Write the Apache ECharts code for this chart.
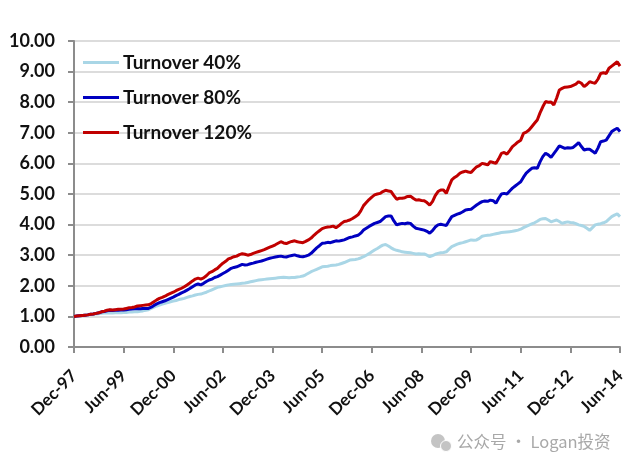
<!DOCTYPE html>
<html><head><meta charset="utf-8">
<script src="https://cdn.jsdelivr.net/npm/echarts@6/dist/echarts.min.js"></script>
<style>html,body{margin:0;padding:0;background:#fff}#c{width:635px;height:469px}</style>
</head><body><div id="c"></div>
<script>
var seriesNames = ['Turnover 40%', 'Turnover 80%', 'Turnover 120%'];
var yTicks = [0,1,2,3,4,5,6,7,8,9,10];
var turnover40 = [
1.00,1.01,1.02,1.03,1.04,1.05,1.06,1.07,1.08,1.09,
1.10,1.11,1.11,1.12,1.11,1.12,1.12,1.12,1.13,1.13,
1.14,1.14,1.15,1.15,1.17,1.18,1.20,1.22,1.26,1.30,
1.34,1.37,1.40,1.43,1.45,1.48,1.50,1.52,1.55,1.57,
1.59,1.62,1.65,1.67,1.70,1.72,1.73,1.76,1.79,1.83,
1.87,1.91,1.95,1.97,1.99,2.01,2.03,2.04,2.05,2.06,
2.07,2.08,2.09,2.11,2.13,2.15,2.17,2.19,2.20,2.21,
2.22,2.23,2.24,2.25,2.26,2.27,2.28,2.27,2.26,2.27,
2.27,2.29,2.30,2.32,2.36,2.41,2.46,2.50,2.54,2.58,
2.62,2.63,2.64,2.66,2.67,2.68,2.70,2.73,2.76,2.80,
2.84,2.85,2.86,2.88,2.91,2.95,3.00,3.05,3.11,3.17,
3.22,3.28,3.33,3.35,3.30,3.24,3.19,3.16,3.14,3.11,
3.10,3.09,3.08,3.06,3.04,3.05,3.04,3.04,3.00,2.95,
2.99,3.03,3.06,3.08,3.09,3.11,3.20,3.28,3.32,3.36,
3.39,3.41,3.44,3.47,3.50,3.49,3.50,3.55,3.62,3.64,
3.65,3.66,3.68,3.70,3.72,3.74,3.75,3.76,3.77,3.78,
3.80,3.82,3.85,3.90,3.94,3.98,4.02,4.06,4.11,4.17,
4.19,4.20,4.15,4.09,4.12,4.15,4.10,4.04,4.07,4.09,
4.07,4.06,4.03,3.99,3.97,3.94,3.88,3.81,3.90,3.99,
4.01,4.03,4.06,4.10,4.18,4.26,4.31,4.35,4.26];
var turnover80 = [
1.00,1.01,1.02,1.03,1.04,1.05,1.07,1.08,1.10,1.12,
1.15,1.16,1.18,1.20,1.19,1.20,1.20,1.21,1.21,1.22,
1.23,1.24,1.25,1.26,1.25,1.26,1.26,1.26,1.30,1.36,
1.41,1.45,1.48,1.51,1.55,1.59,1.63,1.68,1.72,1.77,
1.81,1.86,1.91,1.97,2.03,2.06,2.03,2.08,2.14,2.19,
2.22,2.27,2.30,2.35,2.40,2.45,2.51,2.57,2.60,2.62,
2.66,2.70,2.68,2.69,2.72,2.74,2.77,2.79,2.81,2.84,
2.87,2.90,2.92,2.94,2.96,2.97,2.95,2.94,2.97,2.99,
3.01,2.98,2.96,2.95,2.97,3.00,3.06,3.15,3.24,3.31,
3.39,3.40,3.42,3.41,3.44,3.47,3.46,3.48,3.50,3.54,
3.58,3.60,3.63,3.65,3.72,3.82,3.88,3.94,3.99,4.04,
4.07,4.10,4.18,4.26,4.28,4.28,4.12,3.99,4.02,4.04,
4.03,4.05,4.04,3.95,3.88,3.86,3.84,3.82,3.78,3.72,
3.80,3.92,3.99,4.01,3.99,3.97,4.12,4.26,4.30,4.34,
4.37,4.42,4.48,4.49,4.50,4.57,4.64,4.70,4.75,4.77,
4.76,4.80,4.78,4.70,4.86,5.00,5.02,5.00,5.10,5.19,
5.26,5.33,5.40,5.55,5.68,5.76,5.84,5.86,5.84,6.05,
6.22,6.33,6.28,6.20,6.32,6.44,6.57,6.53,6.49,6.51,
6.50,6.52,6.60,6.68,6.55,6.44,6.46,6.46,6.40,6.33,
6.50,6.71,6.73,6.76,6.90,7.04,7.10,7.15,7.04];
var turnover120 = [
1.00,1.01,1.02,1.03,1.04,1.05,1.07,1.08,1.10,1.12,
1.15,1.17,1.20,1.22,1.21,1.22,1.23,1.23,1.24,1.26,
1.28,1.29,1.31,1.34,1.35,1.36,1.37,1.38,1.42,1.48,
1.54,1.59,1.62,1.66,1.71,1.75,1.79,1.84,1.88,1.92,
1.97,2.03,2.09,2.16,2.22,2.25,2.22,2.26,2.33,2.42,
2.46,2.52,2.57,2.66,2.74,2.80,2.88,2.91,2.95,2.97,
3.02,3.05,3.03,3.00,3.02,3.06,3.09,3.12,3.15,3.18,
3.22,3.26,3.30,3.34,3.39,3.44,3.40,3.38,3.42,3.45,
3.47,3.44,3.42,3.41,3.45,3.50,3.56,3.65,3.73,3.80,
3.87,3.90,3.92,3.93,3.95,3.90,3.96,4.04,4.10,4.12,
4.15,4.20,4.26,4.32,4.45,4.62,4.72,4.82,4.90,4.97,
5.00,5.02,5.08,5.12,5.10,5.08,4.95,4.83,4.86,4.86,
4.88,4.92,4.93,4.86,4.80,4.81,4.79,4.78,4.72,4.64,
4.75,4.95,5.08,5.13,5.13,5.02,5.25,5.46,5.54,5.60,
5.68,5.72,5.75,5.72,5.70,5.80,5.89,5.93,6.00,5.98,
5.95,6.06,6.03,6.00,6.15,6.33,6.36,6.30,6.42,6.55,
6.62,6.70,6.76,6.98,7.02,7.09,7.20,7.31,7.42,7.65,
7.85,8.02,8.00,8.01,7.91,8.13,8.40,8.45,8.49,8.50,
8.51,8.55,8.59,8.67,8.62,8.51,8.58,8.67,8.64,8.62,
8.75,8.94,8.96,8.94,9.11,9.18,9.25,9.32,9.18];

var monthNames = ['Jan','Feb','Mar','Apr','May','Jun','Jul','Aug','Sep','Oct','Nov','Dec'];
var categories = [];
for (var k = 0; k < turnover120.length; k++) {
  var m = (11 + k) % 12, yr = (97 + Math.floor((11 + k) / 12)) % 100;
  categories.push(monthNames[m] + '-' + (yr < 10 ? '0' + yr : '' + yr));
}

var font = 'Lato, "Open Sans", sans-serif';
var chart = echarts.init(document.getElementById('c'), null, {renderer: 'canvas'});
function mk(name, data, color) {
  return {name: name, type: 'line', data: data, showSymbol: false, symbol: 'none',
    lineStyle: {color: color, width: 3}, itemStyle: {color: color}, animation: false};
}
chart.setOption({
  backgroundColor: '#fff',
  animation: false,
  grid: {left: 74, right: 15, top: 41, bottom: 122, containLabel: false},
  legend: {
    orient: 'vertical', left: 83, top: 53, itemGap: 16, padding: 0,
    itemWidth: 36, itemHeight: 3, icon: 'rect',
    data: seriesNames,
    textStyle: {fontFamily: font, fontWeight: 'bold', fontSize: 19, color: '#111', padding: [0,0,0,-1]}
  },
  xAxis: {
    type: 'category', data: categories, boundaryGap: false,
    axisLine: {lineStyle: {color: '#8c8c8c', width: 2}},
    axisTick: {interval: 17, length: 6, lineStyle: {color: '#8c8c8c', width: 2}},
    axisLabel: {interval: 17, rotate: 45, fontFamily: font, fontWeight: 'bold', fontSize: 17, color: '#111', margin: 26},
    splitLine: {show: false}
  },
  yAxis: {
    type: 'value', min: yTicks[0], max: yTicks[yTicks.length - 1], interval: 1,
    axisLine: {show: true, lineStyle: {color: '#8c8c8c', width: 2}},
    axisTick: {show: true, length: 6, lineStyle: {color: '#8c8c8c', width: 2}},
    axisLabel: {formatter: function (v) { return v.toFixed(2); }, fontFamily: font, fontWeight: 'bold', fontSize: 18, color: '#111', margin: 19},
    splitLine: {lineStyle: {color: '#dcdcdc', width: 2}}
  },
  series: [
    mk(seriesNames[0], turnover40, '#a9d6e6'),
    mk(seriesNames[1], turnover80, '#0000c0'),
    mk(seriesNames[2], turnover120, '#c00000')
  ],
  graphic: [
    {type: 'circle', shape: {cx: 438, cy: 441, r: 7}, style: {fill: '#c4c4c4'}},
    {type: 'circle', shape: {cx: 446, cy: 446, r: 5.5}, style: {fill: '#c4c4c4', stroke: '#fff', lineWidth: 1}},
    {type: 'text', left: 457, top: 433, style: {text: '公众号 · Logan投资', font: '16.5px "Noto Sans CJK SC", sans-serif', fill: '#a8a8a8'}}
  ]
});
</script></body></html>
